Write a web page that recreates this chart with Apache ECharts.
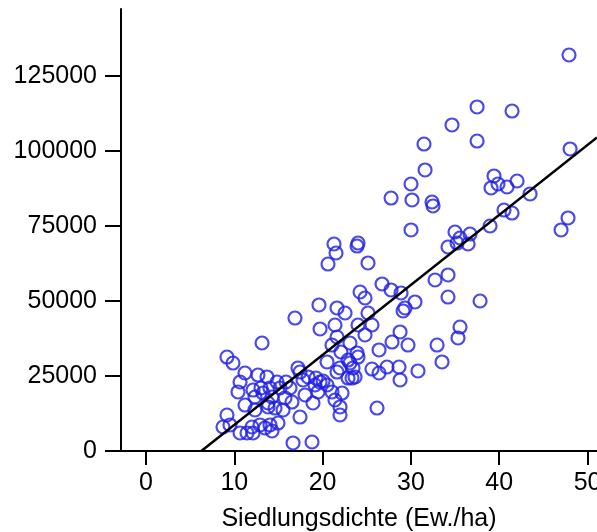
<!DOCTYPE html>
<html>
<head>
<meta charset="utf-8">
<script src="https://cdn.jsdelivr.net/npm/echarts@6/dist/echarts.min.js"></script>
<style>
  html, body { margin: 0; padding: 0; background: #fff; }
  #chart { width: 597px; height: 532px; }
</style>
</head>
<body>
<div id="chart"></div>
<script>
// Siedlungsdichte (Ew./ha) per district
const density = [
  47.90, 37.49, 41.45, 34.65, 31.48, 37.49, 48.02, 31.60, 30.01, 39.41,
  39.86, 39.07, 40.88, 42.02, 27.75, 30.12, 32.39, 32.50, 43.49, 40.54,
  41.45, 47.79, 47.00, 30.01, 38.96, 34.99, 36.69, 35.56, 36.47, 35.22,
  34.20, 21.29, 21.52, 23.90, 24.01, 20.61, 25.14, 32.73, 34.20, 26.73,
  27.75, 24.24, 24.80, 28.88, 29.11, 29.33, 30.46, 34.20, 37.83, 19.59,
  21.63, 22.54, 25.14, 16.87, 19.71, 21.40, 24.01, 25.59, 24.80, 35.56,
  28.77, 35.33, 13.14, 21.63, 27.86, 29.67, 32.96, 26.39, 21.06, 22.08,
  23.10, 23.90, 24.01, 9.17, 9.85, 33.52, 20.50, 23.10, 23.44, 17.21,
  17.44, 18.35, 19.25, 20.05, 21.63, 21.97, 23.33, 23.67, 25.59, 26.39,
  27.29, 28.65, 30.80, 28.77, 26.16, 11.21, 10.65, 10.42, 12.68, 13.70,
  14.84, 15.18, 13.25, 12.12, 14.27, 16.31, 17.78, 18.01, 18.91, 19.71,
  20.50, 21.06, 22.20, 21.40, 21.97, 21.97, 17.44, 11.21, 12.34, 13.82,
  14.61, 9.17, 14.95, 8.72, 9.51, 12.00, 12.91, 10.65, 11.44, 12.12,
  13.48, 14.04, 16.65, 18.80, 13.02, 14.04, 12.34, 13.82, 19.14, 22.88,
  22.88, 14.27, 15.74, 15.52, 16.53, 15.86, 19.48
];
// second variable for the same districts
const value = [
  132000, 114670, 113330, 108670, 102330, 103330, 100670, 93670, 89000, 91670,
  89000, 87670, 88000, 90000, 84330, 83670, 83000, 81670, 85670, 80330,
  79330, 77670, 73670, 73670, 75000, 73000, 72330, 71000, 69000, 69330,
  68000, 69000, 66000, 68330, 69330, 62330, 62670, 57000, 58670, 55670,
  53670, 53000, 51000, 52670, 46670, 47670, 49670, 51330, 50000, 48670,
  47670, 46000, 46000, 44330, 40670, 42000, 42000, 42000, 38670, 41330,
  39670, 37670, 36000, 38000, 36330, 35330, 35330, 33670, 35330, 33000,
  36000, 32670, 31330, 31330, 29330, 29670, 29670, 29330, 27670, 27670,
  26330, 24670, 24330, 23330, 26330, 27670, 24330, 24670, 27330, 26000,
  28000, 28000, 26670, 23670, 14330, 26000, 23000, 19670, 25330, 24670,
  23000, 21000, 19330, 20330, 18000, 21000, 23670, 18670, 16000, 23000,
  22000, 19670, 19330, 17000, 14670, 12000, 11330, 15330, 13670, 14670,
  14330, 12000, 9330, 8000, 8670, 8000, 8670, 6000, 6000, 6000,
  7670, 8670, 2670, 3000, 21000, 21000, 18000, 16000, 22000, 30330,
  24330, 6670, 17670, 13670, 16330, 23000, 19670
];

// least-squares fit: value = intercept + slope * density
const fitIntercept = -14620;
const fitSlope = 2333;

// tick positions
const xTicks = [0, 10, 20, 30, 40, 50];
const yTicks = [0, 25000, 50000, 75000, 100000, 125000];

const xMin = -2.83, xMax = 51.07;
const yMin = 0, yMax = 147333;

const points = density.map((d, i) => [d, value[i]]);
const xStart = (yMin - fitIntercept) / fitSlope;
const fitLine = [
  [xStart, fitIntercept + fitSlope * xStart],
  [xMax, fitIntercept + fitSlope * xMax]
];

const font = '"Liberation Sans", Arial, sans-serif';
const ink = '#000000';

const chart = echarts.init(document.getElementById('chart'), null, { renderer: 'canvas' });
chart.setOption({
  animation: false,
  backgroundColor: '#ffffff',
  grid: { left: 121, right: 0, top: 9, bottom: 81, containLabel: false, outerBoundsMode: 'none' },
  xAxis: {
    type: 'value',
    min: xMin,
    max: xMax,
    name: 'Siedlungsdichte (Ew./ha)',
    nameLocation: 'middle',
    nameGap: 56,
    nameTextStyle: { fontFamily: font, fontSize: 25, color: ink },
    splitLine: { show: false },
    axisLine: { show: true, onZero: false, lineStyle: { color: ink, width: 2 } },
    axisTick: { show: true, length: 14, customValues: xTicks, lineStyle: { color: ink, width: 2 } },
    axisLabel: { customValues: xTicks, fontFamily: font, fontSize: 25, color: ink, margin: 20,
                 formatter: v => String(v) }
  },
  yAxis: {
    type: 'value',
    min: yMin,
    max: yMax,
    splitLine: { show: false },
    axisLine: { show: true, onZero: false, lineStyle: { color: ink, width: 2 } },
    axisTick: { show: true, length: 16, customValues: yTicks, lineStyle: { color: ink, width: 2 } },
    axisLabel: { customValues: yTicks, fontFamily: font, fontSize: 25, color: ink, margin: 24,
                 formatter: v => String(v) }
  },
  series: [
    {
      type: 'scatter',
      data: points,
      symbol: 'circle',
      symbolSize: 13,
      itemStyle: { color: 'rgba(0,0,0,0)', borderColor: '#1e1ee6', borderWidth: 2.2 },
      z: 2
    },
    {
      type: 'line',
      data: fitLine,
      showSymbol: false,
      symbol: 'none',
      lineStyle: { color: '#000000', width: 2.5 },
      z: 3
    }
  ]
});
</script>
</body>
</html>
